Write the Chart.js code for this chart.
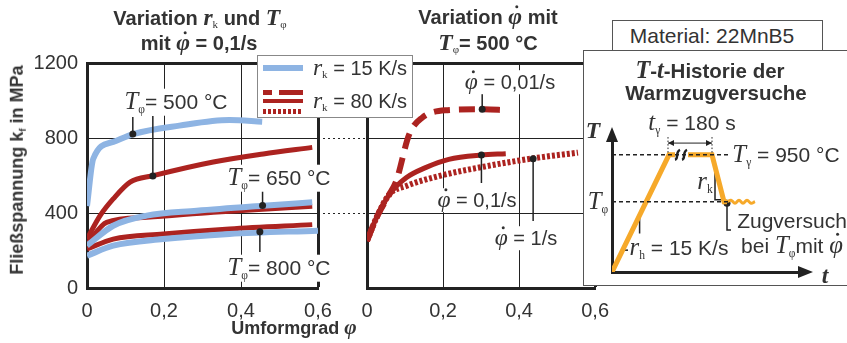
<!DOCTYPE html>
<html>
<head>
<meta charset="utf-8">
<script src="https://cdn.jsdelivr.net/npm/chart.js@4.4.1/dist/chart.umd.min.js"></script>
<style>
  body { margin: 0; width: 847px; height: 343px; position: relative; overflow: hidden; background: #fff;
         font-family: "Liberation Sans", Arial, sans-serif; color: #333; }
  canvas { position: absolute; }
  .t { position: absolute; white-space: nowrap; line-height: 1; transform: translate(-50%, -50%); font-size: 20px; }
  .bg { background: #fff; padding: 0 1px; }
  .b { font-weight: bold; font-size: 20px; }
  .m { font-family: "Liberation Serif", "DejaVu Serif", serif; font-style: italic; font-size: 1.18em; }
  .s { font-family: "Liberation Serif", serif; font-style: normal; font-weight: normal; font-size: 0.55em; vertical-align: -0.35em; }
  .pd { position: relative; display: inline-block; }
  .pd::after { content: ""; position: absolute; width: 3px; height: 3px; border-radius: 50%; background: currentColor;
               left: 52%; top: 0px; }
  .box { position: absolute; border: 1.5px solid #555; background: #fff; }
  .ln { position: absolute; }
</style>
</head>
<body>
<canvas id="left" width="370" height="335" style="left:0;top:0"></canvas>
<canvas id="mid" width="280" height="335" style="left:340px;top:0"></canvas>

<div class="t b" style="left:200px;top:18px">Variation <span class="m">r</span><span class="s">k</span> und <span class="m">T</span><span class="s">φ</span></div>
<div class="t b" style="left:199px;top:43px">mit <span class="m pd">φ</span> = 0,1/s</div>
<div class="t b" style="left:488px;top:17px">Variation <span class="m pd">φ</span> mit</div>
<div class="t b" style="left:488px;top:43px"><span class="m">T</span><span class="s">φ</span>= 500 °C</div>

<div class="t b" style="left:18px;top:170px;font-size:18px;transform:translate(-50%,-50%) rotate(-90deg)">Fließspannung k<span class="s" style="font-family:'Liberation Sans';font-weight:bold">f</span> in MPa</div>
<div class="t b" style="left:294px;top:328px;font-size:18px">Umformgrad <span class="m">φ</span></div>

<div class="t bg" style="left:176px;top:102px;font-size:21px"><span class="m">T</span><span class="s">φ</span>= 500 °C</div>
<div class="t bg" style="left:279px;top:178px;font-size:21px"><span class="m">T</span><span class="s">φ</span>= 650 °C</div>
<div class="t bg" style="left:279px;top:268px;font-size:21px"><span class="m">T</span><span class="s">φ</span>= 800 °C</div>
<div class="t bg" style="left:510px;top:82px"><span class="m pd">φ</span> = 0,01/s</div>
<div class="t bg" style="left:477px;top:200px"><span class="m pd">φ</span> = 0,1/s</div>
<div class="t bg" style="left:526px;top:238px"><span class="m pd">φ</span> = 1/s</div>

<div class="box" style="left:257px;top:55px;width:154px;height:61px;border-width:1px;border-color:#888">
  <div class="ln" style="left:5px;top:9px;width:40px;height:6px;background:#8eb4e3"></div>
  <div class="ln" style="left:5px;top:34px;width:9px;height:5px;background:#ac2320"></div>
  <div class="ln" style="left:21px;top:34px;width:24px;height:5px;background:#ac2320"></div>
  <div class="ln" style="left:5px;top:43px;width:40px;height:4px;background:#ac2320"></div>
  <div class="ln" style="left:5px;top:53px;width:40px;height:5px;background:repeating-linear-gradient(90deg,#ac2320 0 3px,transparent 3px 5px)"></div>
  <div class="t" style="left:102px;top:12px"><span class="m">r</span><span class="s">k</span> = 15 K/s</div>
  <div class="t" style="left:102px;top:45px"><span class="m">r</span><span class="s">k</span> = 80 K/s</div>
</div>

<div class="box" style="left:612px;top:20px;width:209px;height:29px"></div>
<div class="t" style="left:712px;top:35px;font-size:21px">Material: 22MnB5</div>
<div class="box" style="left:583px;top:50px;width:280px;height:234px"></div>
<canvas id="tt" width="263" height="235" style="left:584px;top:50px"></canvas>
<div class="t b" style="left:710px;top:70px;font-size:20.5px"><span class="m">T</span>-<span class="m">t</span>-Historie der</div>
<div class="t b" style="left:716px;top:93px;font-size:20.5px">Warmzugversuche</div>
<div class="t" style="left:593px;top:131px;font-weight:bold"><span class="m">T</span></div>
<div class="t" style="left:598px;top:202px;font-size:21px"><span class="m">T</span><span class="s">φ</span></div>
<div class="t" style="left:692px;top:123px;font-size:21px"><span class="m">t</span><span class="s">γ</span> = 180 s</div>
<div class="t" style="left:786px;top:155px;font-size:21px"><span class="m">T</span><span class="s">γ</span> = 950 °C</div>
<div class="t" style="left:705px;top:182px;font-size:21px"><span class="m">r</span><span class="s">k</span></div>
<div class="t" style="left:679px;top:248px;font-size:21px"><span class="m">r</span><span class="s">h</span> = 15 K/s</div>
<div class="t" style="left:792px;top:220px;font-size:21px">Zugversuch</div>
<div class="t" style="left:792px;top:246px;font-size:21px">bei <span class="m">T</span><span class="s">φ</span>mit <span class="m pd">φ</span></div>
<div class="t" style="left:825px;top:276px;font-weight:bold"><span class="m">t</span></div>

<script>
const blue = "#8eb4e3";
const red = "#ac2320";
const orange = "#f6a92a";
const ink = "#222";

// shared axes
const phiTicks = [0, 0.2, 0.4, 0.6];
const phiTickLabels = ["0", "0,2", "0,4", "0,6"];
const kfTicks = [0, 400, 800, 1200];
const kfTickLabels = ["0", "400", "800", "1200"];

// left chart: r_k and T_phi, phi_dot = 0.1/s
const phiB500 = [0, 0.016, 0.068, 0.12, 0.24, 0.37, 0.455];
const kfB500 = [437, 688, 779, 821, 866, 896, 887];
const phiR500 = [0, 0.034, 0.068, 0.112, 0.172, 0.328, 0.458, 0.585];
const kfR500 = [261, 386, 475, 565, 599, 672, 715, 750];
const phiB650 = [0, 0.068, 0.155, 0.285, 0.458, 0.585];
const kfB650 = [226, 332, 386, 412, 439, 457];
const phiR650 = [0, 0.051, 0.155, 0.328, 0.585];
const kfR650 = [235, 350, 377, 404, 436];
const phiB800 = [0, 0.068, 0.198, 0.37, 0.6];
const kfB800 = [172, 226, 261, 288, 306];
const phiR800 = [0, 0.068, 0.198, 0.37, 0.585];
const kfR800 = [208, 261, 288, 315, 338];

// middle chart: phi_dot at T_phi = 500 C, r_k = 80 K/s
const phiD001 = [0, 0.025, 0.059, 0.077, 0.111, 0.145, 0.206, 0.3, 0.37];
const kfD001 = [251, 375, 500, 571, 819, 908, 948, 953, 948];
const phiD01 = [0, 0.025, 0.059, 0.103, 0.154, 0.215, 0.3, 0.365];
const kfD01 = [251, 375, 500, 588, 642, 686, 709, 716];
const phiD1 = [0, 0.025, 0.059, 0.103, 0.189, 0.318, 0.439, 0.555];
const kfD1 = [251, 375, 500, 544, 597, 651, 692, 722];

// inset: schematic T-t history
const tHeat = [0, 57, 63];
const THeat = [0, 950, 950];
const tHold = [76, 100, 112, 115];
const THold = [950, 950, 570, 570];
const tTest = [115, 119, 123, 127, 131, 135, 139, 143];
const TTest = [570, 582, 558, 582, 558, 582, 558, 570];

const pts = (xs, ys) => xs.map((x, i) => ({ x, y: ys[i] }));

Chart.defaults.font.family = '"Liberation Sans", Arial, sans-serif';
Chart.defaults.font.size = 20;
Chart.defaults.color = "#333";

function curve(xs, ys, color, width, dash) {
  return {
    data: pts(xs, ys), borderColor: color, borderWidth: width, borderDash: dash || [],
    pointRadius: 0, cubicInterpolationMode: "monotone", fill: false, borderCapStyle: "butt",
  };
}

function axes(showY) {
  return {
    x: {
      type: "linear", min: 0, max: 0.6,
      afterBuildTicks: (s) => { s.ticks = phiTicks.map((v) => ({ value: v })); },
      afterFit: (s) => { s.height = 45; },
      ticks: { callback: (v, i) => phiTickLabels[i], padding: 11, maxRotation: 0, autoSkip: false },
      grid: { color: ink, lineWidth: (c) => (c.tick && c.tick.value === 0.6 ? 3 : 1), drawTicks: false },
      border: { color: ink, width: 3 },
    },
    y: {
      type: "linear", min: 0, max: 1200,
      afterBuildTicks: (s) => { s.ticks = kfTicks.map((v) => ({ value: v })); },
      afterFit: (s) => { s.width = showY ? 57 : 0; },
      ticks: { display: showY, callback: (v, i) => kfTickLabels[i], padding: 9 },
      grid: { color: ink, lineWidth: (c) => (c.tick && c.tick.value === 1200 ? 3 : 1), drawTicks: false },
      border: { color: ink, width: 3 },
    },
  };
}

const leaders = {
  id: "leaders",
  afterDatasetsDraw(chart, args, opts) {
    const { ctx, chartArea: ca, scales: { x, y } } = chart;
    ctx.save();
    ctx.strokeStyle = ink;
    ctx.fillStyle = ink;
    ctx.lineWidth = 1.5;
    (opts.items || []).forEach((l) => {
      const px = x.getPixelForValue(l.x);
      const py = y.getPixelForValue(l.y);
      ctx.beginPath();
      ctx.moveTo(px, py);
      ctx.lineTo(px, y.getPixelForValue(l.to));
      ctx.stroke();
      ctx.beginPath();
      ctx.arc(px, py, 3.5, 0, 2 * Math.PI);
      ctx.fill();
    });
    ctx.setLineDash([2, 3]);
    ctx.lineWidth = 1;
    (opts.connect || []).forEach((v) => {
      const py = Math.round(y.getPixelForValue(v)) + 0.5;
      ctx.beginPath();
      ctx.moveTo(ca.right + 5, py);
      ctx.lineTo(ca.right + 47, py);
      ctx.stroke();
    });
    ctx.restore();
  },
};

new Chart(document.getElementById("left"), {
  type: "line",
  data: {
    datasets: [
      curve(phiB500, kfB500, blue, 6),
      curve(phiB650, kfB650, blue, 6),
      curve(phiB800, kfB800, blue, 6),
      curve(phiR500, kfR500, red, 5),
      curve(phiR650, kfR650, red, 5),
      curve(phiR800, kfR800, red, 5),
    ],
  },
  options: {
    responsive: false, animation: false,
    layout: { padding: { left: 30, right: 52, top: 63, bottom: 2 } },
    scales: axes(true),
    plugins: {
      legend: { display: false }, tooltip: { enabled: false },
      leaders: {
        items: [
          { x: 0.119, y: 821, to: 912 },
          { x: 0.171, y: 597, to: 917 },
          { x: 0.456, y: 440, to: 517 },
          { x: 0.449, y: 300, to: 192 },
        ],
        connect: [800, 400],
      },
    },
  },
  plugins: [leaders],
});

new Chart(document.getElementById("mid"), {
  type: "line",
  data: {
    datasets: [
      curve(phiD1, kfD1, red, 6, [3, 2]),
      curve(phiD001, kfD001, red, 6, [16, 9]),
      curve(phiD01, kfD01, red, 5),
    ],
  },
  options: {
    responsive: false, animation: false,
    layout: { padding: { left: 27, right: 21, top: 63, bottom: 2 } },
    scales: axes(false),
    plugins: {
      legend: { display: false }, tooltip: { enabled: false },
      leaders: {
        items: [
          { x: 0.303, y: 953, to: 1035 },
          { x: 0.301, y: 709, to: 560 },
          { x: 0.437, y: 690, to: 357 },
        ],
      },
    },
  },
  plugins: [leaders],
});

const schematic = {
  id: "schematic",
  afterDraw(chart) {
    const { ctx, chartArea: ca, scales: { x, y } } = chart;
    ctx.save();
    ctx.fillStyle = ink;
    ctx.strokeStyle = ink;
    // axis arrows
    ctx.beginPath();
    ctx.moveTo(ca.left, ca.top - 13); ctx.lineTo(ca.left - 6, ca.top + 2); ctx.lineTo(ca.left + 6, ca.top + 2);
    ctx.fill();
    ctx.beginPath();
    ctx.moveTo(ca.right + 13, ca.bottom); ctx.lineTo(ca.right - 2, ca.bottom - 6); ctx.lineTo(ca.right - 2, ca.bottom + 6);
    ctx.fill();
    // break marks on the holding line
    ctx.lineWidth = 2.5;
    [66, 73].forEach((t) => {
      const cx = x.getPixelForValue(t), cy = y.getPixelForValue(950);
      ctx.beginPath();
      ctx.moveTo(cx - 3, cy + 5);
      ctx.bezierCurveTo(cx + 1, cy + 4, cx - 3, cy - 3, cx + 2, cy - 5);
      ctx.stroke();
    });
    // t_gamma dimension
    const x1 = x.getPixelForValue(56), x2 = x.getPixelForValue(100), yd = y.getPixelForValue(1045);
    ctx.lineWidth = 1;
    ctx.beginPath(); ctx.moveTo(x1, yd); ctx.lineTo(x2, yd); ctx.stroke();
    ctx.beginPath();
    ctx.moveTo(x1, yd); ctx.lineTo(x1 + 6, yd - 3); ctx.lineTo(x1 + 6, yd + 3);
    ctx.moveTo(x2, yd); ctx.lineTo(x2 - 6, yd - 3); ctx.lineTo(x2 - 6, yd + 3);
    ctx.fill();
    ctx.setLineDash([1.5, 2]);
    [x1, x2].forEach((px) => {
      ctx.beginPath(); ctx.moveTo(px, yd - 6); ctx.lineTo(px, y.getPixelForValue(960)); ctx.stroke();
    });
    ctx.restore();
  },
};

function seg(xs, ys, color, width, extra) {
  return Object.assign({ data: pts(xs, ys), borderColor: color, borderWidth: width, pointRadius: 0, tension: 0 }, extra || {});
}

new Chart(document.getElementById("tt"), {
  type: "line",
  data: {
    datasets: [
      seg([0, 116], [950, 950], ink, 1.5, { borderDash: [4, 3] }),
      seg([0, 116], [570, 570], ink, 1.5, { borderDash: [4, 3] }),
      seg(tHeat, THeat, orange, 5),
      seg(tHold, THold, orange, 5),
      seg(tTest, TTest, orange, 3, { tension: 0.4 }),
      seg([100, 112], [950, 570], ink, 1.5),
      seg([103, 103, 111], [905, 585, 585], ink, 1.5),
      seg([11.6, 27.6, 27.6], [177, 475, 313], ink, 1.5),
      seg([11.6, 16], [177, 177], ink, 1.5),
      seg([115, 115, 119], [557, 340, 340], ink, 1.5, { pointRadius: [3.5, 0, 0], pointBackgroundColor: ink, pointBorderWidth: 0 }),
    ],
  },
  options: {
    responsive: false, animation: false,
    layout: { padding: { left: 28, right: 47, top: 90, bottom: 13 } },
    scales: {
      x: { type: "linear", min: 0, max: 188, ticks: { display: false }, grid: { display: false },
           border: { display: true, width: 3, color: ink }, afterFit: (s) => { s.height = 0; } },
      y: { type: "linear", min: 0, max: 1070, ticks: { display: false }, grid: { display: false },
           border: { display: true, width: 3, color: ink }, afterFit: (s) => { s.width = 0; } },
    },
    plugins: { legend: { display: false }, tooltip: { enabled: false } },
  },
  plugins: [schematic],
});
</script>
</body>
</html>
